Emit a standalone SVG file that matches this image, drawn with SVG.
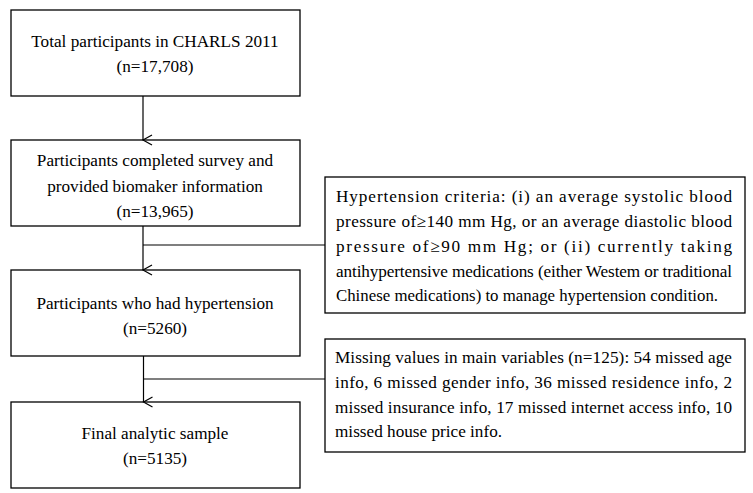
<svg xmlns="http://www.w3.org/2000/svg" width="753" height="493" viewBox="0 0 753 493">
<style>
.box{fill:#fff;stroke:#000;stroke-width:1.3}
.t{font-family:"Liberation Serif","Times New Roman",serif;font-size:17.2px;fill:#000}
.c{text-anchor:middle}
.ln{stroke:#000;stroke-width:1.2;fill:none}
</style>
<defs>
<marker id="ah" markerWidth="12" markerHeight="12" refX="6" refY="10" orient="auto" markerUnits="userSpaceOnUse" viewBox="0 0 12 12">
<path d="M1,1 L6,10 L11,1" fill="none" stroke="#000" stroke-width="1.2"/>
</marker>
</defs>
<rect width="753" height="493" fill="#fff"/>
<g id="n1">
<rect class="box" x="11" y="10" width="289" height="86"/>
<text class="t c" x="155" y="47">Total participants in CHARLS 2011</text>
<text class="t c" x="155" y="72">(n=17,708)</text>
</g>
<g id="n2">
<rect class="box" x="11" y="140" width="289" height="86"/>
<text class="t c" x="155" y="166">Participants completed survey and</text>
<text class="t c" x="155" y="192">provided biomaker information</text>
<text class="t c" x="155" y="217">(n=13,965)</text>
</g>
<g id="n3">
<rect class="box" x="11" y="270" width="289" height="86"/>
<text class="t c" x="155" y="309">Participants who had hypertension</text>
<text class="t c" x="155" y="334">(n=5260)</text>
</g>
<g id="n4">
<rect class="box" x="11" y="402" width="289" height="86"/>
<text class="t c" x="155" y="439">Final analytic sample</text>
<text class="t c" x="155" y="464">(n=5135)</text>
</g>
<g id="criteria">
<rect class="box" x="325" y="177" width="420" height="136"/>
<text class="t" x="336" y="202" textLength="396" lengthAdjust="spacing">Hypertension criteria: (i) an average systolic blood</text>
<text class="t" x="336" y="227" textLength="396" lengthAdjust="spacing">pressure of≥140 mm Hg, or an average diastolic blood</text>
<text class="t" x="336" y="252" textLength="396" lengthAdjust="spacing">pressure of≥90 mm Hg; or (ii) currently taking</text>
<text class="t" x="336" y="277" textLength="396" lengthAdjust="spacing">antihypertensive medications (either Westem or traditional</text>
<text class="t" x="336" y="301" textLength="382" lengthAdjust="spacingAndGlyphs">Chinese medications) to manage hypertension condition.</text>
</g>
<g id="missing">
<rect class="box" x="325" y="339" width="420" height="113"/>
<text class="t" x="335" y="363" textLength="397" lengthAdjust="spacing">Missing values in main variables (n=125): 54 missed age</text>
<text class="t" x="335" y="388" textLength="397" lengthAdjust="spacing">info, 6 missed gender info, 36 missed residence info, 2</text>
<text class="t" x="335" y="413" textLength="397" lengthAdjust="spacing">missed insurance info, 17 missed internet access info, 10</text>
<text class="t" x="335" y="437">missed house price info.</text>
</g>
<g id="connectors">
<line class="ln" x1="143" y1="96" x2="143" y2="140" marker-end="url(#ah)"/>
<line class="ln" x1="143" y1="226" x2="143" y2="270" marker-end="url(#ah)"/>
<line class="ln" x1="143" y1="245" x2="325" y2="245" stroke="#444"/>
<line class="ln" x1="143.5" y1="356" x2="143.5" y2="402" marker-end="url(#ah)"/>
<line class="ln" x1="143.5" y1="379" x2="325" y2="379"/>
</g>
</svg>
